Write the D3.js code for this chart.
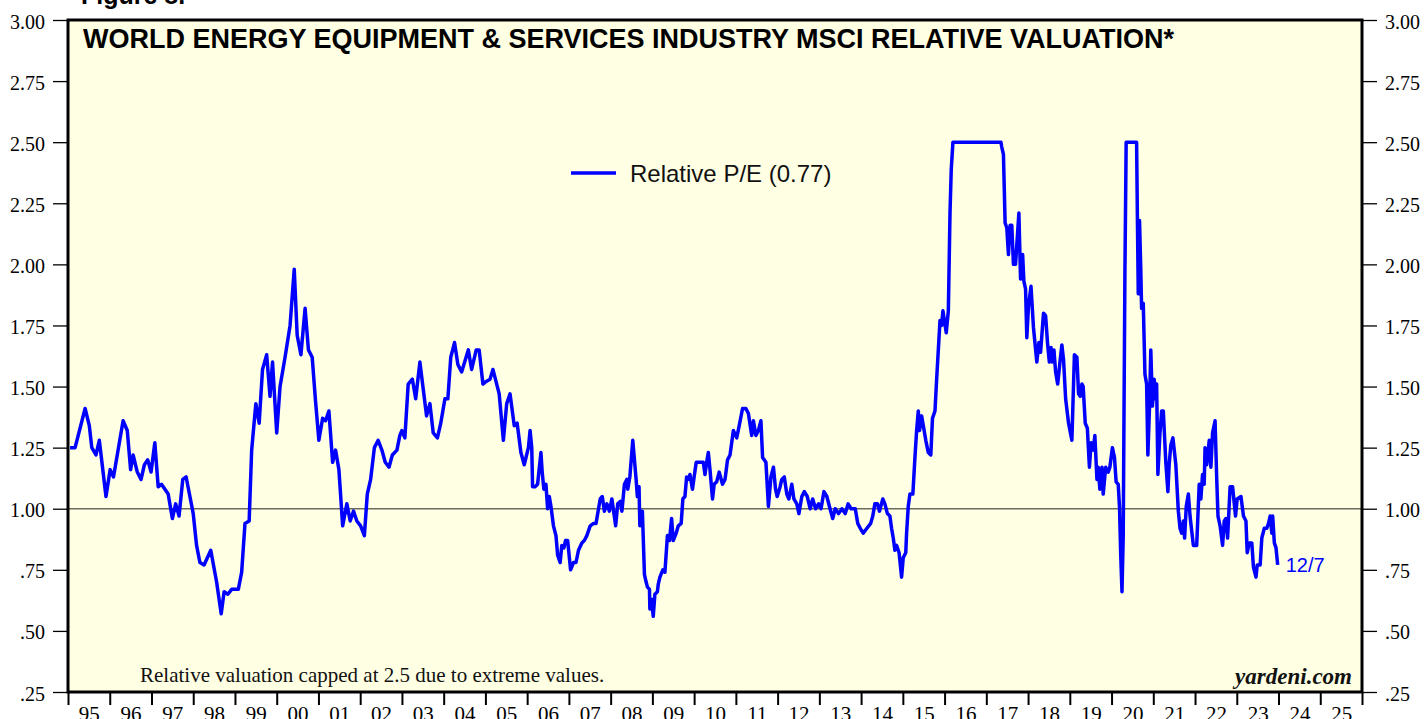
<!DOCTYPE html>
<html>
<head>
<meta charset="utf-8">
<script src="https://cdn.jsdelivr.net/npm/d3@7"></script>
<style>
    body { margin: 0; background: #fff; }
    svg { display: block; }
</style>
</head>
<body>
<div id="chart"></div>
<script>
/* World Energy Equipment & Services MSCI relative valuation */

// decimal years
const dates = [
    1995.05, 1995.17, 1995.41, 1995.51, 1995.57, 1995.67, 1995.75, 1995.91, 1996.01, 1996.09,
    1996.32, 1996.42, 1996.50, 1996.56, 1996.66, 1996.75, 1996.83, 1996.91, 1996.99, 1997.08,
    1997.16, 1997.24, 1997.40, 1997.50, 1997.58, 1997.66, 1997.75, 1997.83, 1998.00, 1998.08,
    1998.16, 1998.26, 1998.42, 1998.56, 1998.67, 1998.74, 1998.83, 1998.92, 1999.08, 1999.16,
    1999.24, 1999.34, 1999.40, 1999.50, 1999.58, 1999.66, 1999.76, 1999.84, 1999.90, 2000.00,
    2000.08, 2000.20, 2000.32, 2000.42, 2000.49, 2000.58, 2000.68, 2000.76, 2000.85, 2000.93,
    2001.01, 2001.10, 2001.17, 2001.25, 2001.34, 2001.41, 2001.49, 2001.58, 2001.68, 2001.76,
    2001.84, 2001.92, 2002.01, 2002.10, 2002.17, 2002.25, 2002.34, 2002.43, 2002.52, 2002.60,
    2002.69, 2002.77, 2002.88, 2002.95, 2003.00, 2003.07, 2003.15, 2003.25, 2003.33, 2003.43,
    2003.51, 2003.59, 2003.67, 2003.75, 2003.85, 2003.93, 2004.03, 2004.10, 2004.17, 2004.26,
    2004.34, 2004.43, 2004.59, 2004.67, 2004.78, 2004.85, 2004.94, 2005.01, 2005.11, 2005.18,
    2005.33, 2005.43, 2005.51, 2005.59, 2005.69, 2005.76, 2005.85, 2005.93, 2006.03, 2006.07,
    2006.11, 2006.13, 2006.19, 2006.25, 2006.28, 2006.33, 2006.36, 2006.40, 2006.45, 2006.49,
    2006.53, 2006.57, 2006.63, 2006.69, 2006.73, 2006.79, 2006.83, 2006.88, 2006.92, 2006.97,
    2007.04, 2007.11, 2007.17, 2007.23, 2007.31, 2007.37, 2007.43, 2007.51, 2007.59, 2007.65,
    2007.71, 2007.75, 2007.80, 2007.85, 2007.91, 2007.97, 2008.03, 2008.12, 2008.17, 2008.23,
    2008.27, 2008.33, 2008.39, 2008.41, 2008.46, 2008.53, 2008.57, 2008.61, 2008.64, 2008.68,
    2008.70, 2008.76, 2008.81, 2008.85, 2008.88, 2008.93, 2008.94, 2008.98, 2009.02, 2009.06,
    2009.12, 2009.14, 2009.18, 2009.25, 2009.30, 2009.36, 2009.41, 2009.46, 2009.50, 2009.57,
    2009.62, 2009.69, 2009.73, 2009.78, 2009.82, 2009.86, 2009.90, 2009.96, 2010.00, 2010.05,
    2010.10, 2010.17, 2010.22, 2010.26, 2010.30, 2010.34, 2010.38, 2010.44, 2010.48, 2010.54,
    2010.60, 2010.68, 2010.74, 2010.80, 2010.86, 2010.94, 2011.02, 2011.08, 2011.16, 2011.24,
    2011.30, 2011.38, 2011.42, 2011.48, 2011.54, 2011.60, 2011.64, 2011.72, 2011.78, 2011.84,
    2011.90, 2011.95, 2011.99, 2012.06, 2012.10, 2012.16, 2012.22, 2012.27, 2012.34, 2012.39,
    2012.46, 2012.51, 2012.58, 2012.64, 2012.71, 2012.78, 2012.84, 2012.91, 2012.98, 2013.04,
    2013.11, 2013.18, 2013.24, 2013.32, 2013.38, 2013.46, 2013.54, 2013.62, 2013.69, 2013.76,
    2013.86, 2013.92, 2013.98, 2014.05, 2014.14, 2014.23, 2014.28, 2014.33, 2014.39, 2014.44,
    2014.52, 2014.57, 2014.63, 2014.69, 2014.73, 2014.77, 2014.81, 2014.85, 2014.91, 2014.97,
    2015.01, 2015.07, 2015.09, 2015.13, 2015.17, 2015.24, 2015.29, 2015.33, 2015.37, 2015.40,
    2015.45, 2015.49, 2015.55, 2015.61, 2015.67, 2015.71, 2015.77, 2015.81, 2015.85, 2015.89,
    2015.93, 2015.96, 2016.04, 2016.09, 2016.13, 2016.16, 2016.20, 2017.35, 2017.37, 2017.41,
    2017.45, 2017.49, 2017.53, 2017.57, 2017.61, 2017.65, 2017.70, 2017.78, 2017.82, 2017.87,
    2017.90, 2017.94, 2017.97, 2018.01, 2018.07, 2018.13, 2018.17, 2018.21, 2018.26, 2018.30,
    2018.37, 2018.42, 2018.47, 2018.51, 2018.55, 2018.58, 2018.62, 2018.66, 2018.71, 2018.77,
    2018.81, 2018.85, 2018.90, 2018.97, 2019.05, 2019.11, 2019.17, 2019.21, 2019.25, 2019.29,
    2019.32, 2019.37, 2019.42, 2019.47, 2019.51, 2019.56, 2019.60, 2019.65, 2019.68, 2019.72,
    2019.77, 2019.80, 2019.86, 2019.92, 2019.96, 2020.02, 2020.07, 2020.11, 2020.16, 2020.19,
    2020.22, 2020.25, 2020.28, 2020.32, 2020.35, 2020.60, 2020.62, 2020.64, 2020.67, 2020.70,
    2020.72, 2020.76, 2020.80, 2020.84, 2020.87, 2020.91, 2020.94, 2020.98, 2021.02, 2021.06,
    2021.08, 2021.11, 2021.16, 2021.20, 2021.24, 2021.30, 2021.35, 2021.38, 2021.42, 2021.47,
    2021.54, 2021.60, 2021.64, 2021.68, 2021.72, 2021.75, 2021.79, 2021.84, 2021.88, 2021.96,
    2022.04, 2022.10, 2022.14, 2022.18, 2022.22, 2022.24, 2022.28, 2022.34, 2022.38, 2022.42,
    2022.48, 2022.52, 2022.55, 2022.60, 2022.66, 2022.70, 2022.74, 2022.78, 2022.84, 2022.90,
    2022.97, 2023.01, 2023.10, 2023.16, 2023.22, 2023.25, 2023.30, 2023.36, 2023.40, 2023.46,
    2023.49, 2023.56, 2023.60, 2023.66, 2023.72, 2023.76, 2023.80, 2023.84, 2023.86, 2023.90,
    2023.94, 2023.98
];

// relative P/E (capped at 2.5)
const values = [
    1.25, 1.25, 1.41, 1.34, 1.25, 1.22, 1.28, 1.05, 1.16, 1.13,
    1.36, 1.32, 1.16, 1.22, 1.15, 1.12, 1.18, 1.20, 1.15, 1.27,
    1.09, 1.10, 1.06, 0.96, 1.02, 0.97, 1.12, 1.13, 0.98, 0.85,
    0.78, 0.77, 0.83, 0.70, 0.57, 0.66, 0.65, 0.67, 0.67, 0.74,
    0.94, 0.95, 1.24, 1.43, 1.35, 1.57, 1.63, 1.46, 1.60, 1.31,
    1.50, 1.62, 1.75, 1.98, 1.71, 1.63, 1.82, 1.65, 1.62, 1.44,
    1.28, 1.37, 1.36, 1.40, 1.19, 1.24, 1.16, 0.93, 1.02, 0.95,
    0.99, 0.95, 0.93, 0.89, 1.06, 1.12, 1.25, 1.28, 1.24, 1.19,
    1.17, 1.22, 1.24, 1.30, 1.32, 1.29, 1.51, 1.53, 1.45, 1.60,
    1.49, 1.38, 1.43, 1.31, 1.29, 1.35, 1.45, 1.45, 1.62, 1.68,
    1.59, 1.56, 1.65, 1.57, 1.65, 1.65, 1.51, 1.52, 1.53, 1.57,
    1.47, 1.28, 1.43, 1.47, 1.34, 1.35, 1.23, 1.18, 1.25, 1.32,
    1.25, 1.09, 1.09, 1.10, 1.15, 1.23, 1.15, 1.08, 1.10, 1.00,
    1.05, 1.01, 0.93, 0.89, 0.81, 0.78, 0.85, 0.84, 0.87, 0.87,
    0.75, 0.78, 0.78, 0.83, 0.86, 0.87, 0.89, 0.93, 0.94, 0.94,
    1.00, 1.04, 1.05, 0.99, 1.02, 0.99, 1.04, 0.93, 1.02, 1.03,
    0.99, 1.10, 1.12, 1.08, 1.13, 1.28, 1.20, 1.12, 1.05, 1.09,
    0.93, 0.99, 0.73, 0.70, 0.68, 0.67, 0.59, 0.63, 0.56, 0.65,
    0.66, 0.69, 0.72, 0.75, 0.74, 0.89, 0.87, 0.96, 0.87, 0.90,
    0.93, 0.94, 1.04, 1.05, 1.13, 1.12, 1.14, 1.08, 1.13, 1.19,
    1.19, 1.19, 1.19, 1.14, 1.19, 1.23, 1.16, 1.04, 1.10, 1.11,
    1.15, 1.10, 1.12, 1.20, 1.22, 1.32, 1.29, 1.34, 1.41, 1.41,
    1.39, 1.30, 1.36, 1.30, 1.32, 1.36, 1.21, 1.19, 1.01, 1.13,
    1.17, 1.08, 1.05, 1.09, 1.12, 1.13, 1.06, 1.04, 1.10, 1.04,
    1.02, 0.98, 1.05, 1.07, 1.05, 1.00, 1.04, 1.00, 1.02, 1.00,
    1.07, 1.05, 1.01, 0.96, 1.00, 0.98, 1.00, 0.98, 1.02, 1.00,
    1.00, 0.94, 0.92, 0.90, 0.92, 0.94, 0.97, 1.02, 1.02, 0.99,
    1.04, 1.02, 0.98, 0.97, 0.92, 0.88, 0.83, 0.85, 0.82, 0.72,
    0.80, 0.82, 0.90, 1.01, 1.06, 1.06, 1.21, 1.32, 1.40, 1.32,
    1.38, 1.34, 1.28, 1.23, 1.22, 1.37, 1.40, 1.53, 1.65, 1.77,
    1.75, 1.81, 1.72, 1.81, 2.21, 2.39, 2.50, 2.50, 2.48, 2.45,
    2.17, 2.15, 2.04, 2.16, 2.16, 2.00, 2.00, 2.21, 1.94, 2.04,
    1.93, 1.90, 1.70, 1.83, 1.91, 1.74, 1.67, 1.60, 1.68, 1.64,
    1.80, 1.79, 1.67, 1.60, 1.66, 1.60, 1.65, 1.56, 1.51, 1.61,
    1.67, 1.61, 1.45, 1.35, 1.28, 1.63, 1.62, 1.47, 1.46, 1.51,
    1.50, 1.35, 1.33, 1.17, 1.27, 1.24, 1.30, 1.12, 1.17, 1.08,
    1.17, 1.06, 1.17, 1.15, 1.17, 1.25, 1.21, 1.11, 1.10, 1.01,
    0.81, 0.66, 0.89, 1.96, 2.50, 2.50, 2.18, 1.88, 2.18, 1.98,
    1.82, 1.84, 1.55, 1.51, 1.22, 1.42, 1.65, 1.42, 1.53, 1.45,
    1.51, 1.14, 1.31, 1.40, 1.40, 1.19, 1.07, 1.18, 1.26, 1.29,
    1.18, 0.99, 0.92, 0.90, 0.95, 0.88, 1.01, 1.06, 0.97, 0.85,
    0.85, 1.10, 1.04, 1.14, 1.10, 1.25, 1.18, 1.28, 1.17, 1.31,
    1.36, 1.12, 0.97, 0.93, 0.85, 0.95, 0.96, 0.88, 1.09, 1.09,
    0.97, 1.04, 1.05, 0.97, 0.95, 0.82, 0.86, 0.86, 0.76, 0.72,
    0.77, 0.77, 0.88, 0.92, 0.92, 0.94, 0.97, 0.90, 0.97, 0.86,
    0.84, 0.77
];

const yTicks = [3.00, 2.75, 2.50, 2.25, 2.00, 1.75, 1.50, 1.25, 1.00, 0.75, 0.50, 0.25];
const yTickLabels = ['3.00', '2.75', '2.50', '2.25', '2.00', '1.75', '1.50', '1.25', '1.00', '.75', '.50', '.25'];
const yearStart = 1995, yearEnd = 2026;
const yearLabels = ['95', '96', '97', '98', '99', '00', '01', '02', '03', '04', '05', '06', '07', '08', '09', '10',
    '11', '12', '13', '14', '15', '16', '17', '18', '19', '20', '21', '22', '23', '24', '25'];

const titleText = 'WORLD ENERGY EQUIPMENT & SERVICES INDUSTRY MSCI RELATIVE VALUATION*';
const legendText = 'Relative P/E (0.77)';
const noteText = 'Relative valuation capped at 2.5 due to extreme values.';
const lastLabel = '12/7';

const width = 1426, height = 719;
const margin = { top: 20, right: 64, bottom: 27, left: 68 };
const innerWidth = width - margin.left - margin.right;
const innerHeight = height - margin.top - margin.bottom;

const sans = 'Liberation Sans, Arial, sans-serif';
const serif = 'Liberation Serif, Times New Roman, serif';

const svg = d3.select('#chart').append('svg')
    .attr('width', width)
    .attr('height', height);

const x = d3.scaleLinear()
    .domain([yearStart, yearEnd])
    .range([margin.left, margin.left + innerWidth]);

const y = d3.scaleLinear()
    .domain([0.25, 3])
    .range([margin.top + innerHeight, margin.top]);

// Plot background
svg.append('rect')
    .attr('x', margin.left)
    .attr('y', margin.top)
    .attr('width', innerWidth)
    .attr('height', innerHeight)
    .attr('fill', '#ffffe3');

// Reference line at 1.00
svg.append('line')
    .attr('x1', margin.left)
    .attr('x2', margin.left + innerWidth)
    .attr('y1', y(1))
    .attr('y2', y(1))
    .attr('stroke', '#6b6b5e')
    .attr('stroke-width', 1.5);

// Series
const series = dates.map((d, i) => [d, values[i]]);

const line = d3.line()
    .x(d => x(d[0]))
    .y(d => y(d[1]));

svg.append('path')
    .datum(series)
    .attr('d', line)
    .attr('fill', 'none')
    .attr('stroke', '#0000ff')
    .attr('stroke-width', 3.5)
    .attr('stroke-linejoin', 'round');

// Frame
svg.append('rect')
    .attr('x', margin.left)
    .attr('y', margin.top)
    .attr('width', innerWidth)
    .attr('height', innerHeight)
    .attr('fill', 'none')
    .attr('stroke', '#000')
    .attr('stroke-width', 3);

// Y axes (both sides)
function styleAxis(g, size) {
    g.select('.domain').remove();
    g.selectAll('line').attr('stroke', '#000').attr('stroke-width', 1.3);
    g.selectAll('text')
        .attr('fill', '#000')
        .style('font-family', serif)
        .style('font-size', size + 'px');
}

svg.append('g')
    .attr('transform', `translate(${margin.left},0)`)
    .call(d3.axisLeft(y).tickValues(yTicks).tickSize(15).tickPadding(8)
        .tickFormat((d, i) => yTickLabels[i]))
    .call(g => styleAxis(g, 20))
    .selectAll('text').attr('dy', '0.4em');

svg.append('g')
    .attr('transform', `translate(${margin.left + innerWidth},0)`)
    .call(d3.axisRight(y).tickValues(yTicks).tickSize(15).tickPadding(8)
        .tickFormat((d, i) => yTickLabels[i]))
    .call(g => styleAxis(g, 20))
    .selectAll('text').attr('dy', '0.4em');

// X axis: year boundary ticks + centred labels
svg.append('g')
    .attr('transform', `translate(0,${margin.top + innerHeight})`)
    .call(d3.axisBottom(x).tickValues(d3.range(yearStart, yearEnd + 1)).tickSize(13).tickFormat(''))
    .call(g => styleAxis(g, 21))
    .selectAll('line').attr('stroke-width', 2);

svg.append('g')
    .attr('transform', `translate(0,${margin.top + innerHeight})`)
    .call(d3.axisBottom(x).tickValues(d3.range(yearStart, yearEnd).map(d => d + 0.5)).tickSize(0).tickPadding(14)
        .tickFormat((d, i) => yearLabels[i]))
    .call(g => styleAxis(g, 21));

// Figure label (cut off at top)
svg.append('text')
    .attr('x', 81)
    .attr('y', 4)
    .attr('font-family', sans)
    .attr('font-weight', 'bold')
    .attr('font-size', 25)
    .attr('fill', '#000')
    .text('Figure 8.');

// Title
svg.append('text')
    .attr('x', margin.left + 15)
    .attr('y', 48)
    .attr('font-family', sans)
    .attr('font-weight', 'bold')
    .attr('font-size', 27)
    .attr('fill', '#000')
    .text(titleText);

// Legend
svg.append('line')
    .attr('x1', 571)
    .attr('x2', 616)
    .attr('y1', 173)
    .attr('y2', 173)
    .attr('stroke', '#0000ff')
    .attr('stroke-width', 3.5);

svg.append('text')
    .attr('x', 630)
    .attr('y', 182)
    .attr('font-family', sans)
    .attr('font-size', 24)
    .attr('fill', '#111')
    .text(legendText);

// Last date label
const last = series[series.length - 1];
svg.append('text')
    .attr('x', x(last[0]) + 8)
    .attr('y', y(last[1]) + 7)
    .attr('font-family', sans)
    .attr('font-size', 20)
    .attr('fill', '#0000ff')
    .text(lastLabel);

// Footnote and source
svg.append('text')
    .attr('x', 140)
    .attr('y', 682)
    .attr('font-family', serif)
    .attr('font-size', 21)
    .attr('fill', '#111')
    .text(noteText);

svg.append('text')
    .attr('x', 1352)
    .attr('y', 684)
    .attr('text-anchor', 'end')
    .attr('font-family', serif)
    .attr('font-weight', 'bold')
    .attr('font-style', 'italic')
    .attr('font-size', 23)
    .attr('fill', '#111')
    .text('yardeni.com');
</script>
</body>
</html>
